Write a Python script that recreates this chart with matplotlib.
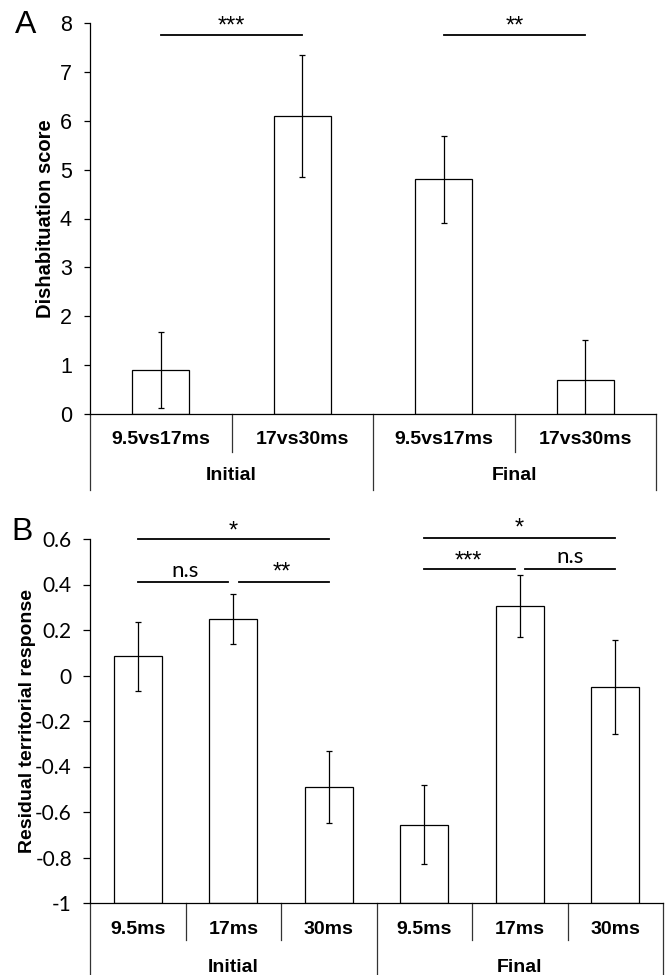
import numpy as np
import matplotlib.pyplot as plt

plt.rcParams['font.family'] = ['Liberation Sans', 'DejaVu Sans']

# Panel A data
a_cats = ['9.5vs17ms', '17vs30ms', '9.5vs17ms', '17vs30ms']
a_groups = ['Initial', 'Final']
a_means = [0.9, 6.1, 4.8, 0.7]
a_err = [0.77, 1.25, 0.89, 0.81]

# Panel B data
b_cats = ['9.5ms', '17ms', '30ms', '9.5ms', '17ms', '30ms']
b_groups = ['Initial', 'Final']
b_means = [0.084, 0.25, -0.49, -0.655, 0.305, -0.05]
b_err = [0.15, 0.11, 0.16, 0.172, 0.135, 0.208]
b_ticks = [0.6, 0.4, 0.2, 0, -0.2, -0.4, -0.6, -0.8, -1]
b_ticklabels = ['0.6', '0.4', '0.2', '0', '-0.2', '-0.4', '-0.6', '-0.8', '-1']

W, H = 669, 975
fig = plt.figure(figsize=(W / 100, H / 100), dpi=100)

axA = fig.add_axes([90 / W, 1 - 414 / H, 566 / W, 391 / H])
axB = fig.add_axes([90 / W, 1 - 903 / H, 573 / W, 364 / H])


def frac(ax, px):
    # pixels below the x axis -> axes fraction
    return -px / (ax.get_position().height * H)


def style(ax):
    for s in ['top', 'right']:
        ax.spines[s].set_visible(False)
    ax.spines['left'].set_linewidth(0.9)
    ax.spines['bottom'].set_linewidth(0.9)
    ax.tick_params(axis='x', length=0, labelbottom=False)


def category_axis(ax, cats, groups, per_group, cat_px, group_px, lab_px, glab_px):
    n = len(cats)
    tr = ax.get_xaxis_transform()
    for i, c in enumerate(cats):
        ax.text(i, frac(ax, lab_px), c, transform=tr, ha='center', va='center',
                fontsize=14, fontweight='bold')
    for i in range(1, n):
        if i % per_group:
            ax.plot([i - 0.5, i - 0.5], [0, frac(ax, cat_px)], transform=tr,
                    color='#333333', lw=0.9, clip_on=False)
    for g in range(len(groups) + 1):
        x = g * per_group - 0.5
        ax.plot([x, x], [0, frac(ax, group_px)], transform=tr,
                color='#333333', lw=0.9, clip_on=False)
    for g, name in enumerate(groups):
        ax.text(g * per_group + (per_group - 1) / 2, frac(ax, glab_px), name,
                transform=tr, ha='center', va='center', fontsize=14, fontweight='bold')


# ---------- Panel A ----------
xa = np.arange(len(a_means))
axA.bar(xa, a_means, width=0.4, color='white', edgecolor='black', linewidth=0.9, zorder=2)
axA.errorbar(xa, a_means, yerr=a_err, fmt='none', ecolor='black', elinewidth=0.9,
             capsize=2.5, capthick=0.9, zorder=3)
axA.set_xlim(-0.5, 3.5)
axA.set_ylim(0, 8)
axA.set_yticks(range(0, 9))
axA.tick_params(axis='y', length=4, width=0.9, pad=9, labelsize=15.5)
style(axA)
axA.set_ylabel('Dishabituation score', fontsize=14.5, fontweight='bold')
axA.yaxis.set_label_coords(-(90 - 55) / 566, 0.5)
category_axis(axA, a_cats, a_groups, 2, 38, 76, 26, 62)

for x0, x1, lab in [(0, 1, '***'), (2, 3, '**')]:
    axA.plot([x0, x1], [7.75, 7.75], color='black', lw=1.3, clip_on=False)
    axA.text((x0 + x1) / 2, 7.93, lab, ha='center', va='center', fontsize=17)

fig.text(26 / W, 1 - 25 / H, 'A', ha='center', va='center', fontsize=23)

# ---------- Panel B ----------
xb = np.arange(len(b_means))
axB.bar(xb, np.array(b_means) + 1, bottom=-1, width=0.5, color='white',
        edgecolor='black', linewidth=0.9, zorder=2)
axB.errorbar(xb, b_means, yerr=b_err, fmt='none', ecolor='black', elinewidth=0.9,
             capsize=2.5, capthick=0.9, zorder=3)
axB.set_xlim(-0.5, 5.5)
axB.set_ylim(-1, 0.6)
axB.set_yticks(b_ticks)
axB.set_yticklabels(b_ticklabels, fontfamily='Lato')
axB.tick_params(axis='y', length=5, width=0.9, pad=8, labelsize=15)
style(axB)
axB.set_ylabel('Residual territorial response', fontsize=14, fontweight='bold')
axB.yaxis.set_label_coords(-(90 - 36) / 573, 0.5)
category_axis(axB, b_cats, b_groups, 3, 37, 80, 27, 64)

sig_b = [
    (0, 2, 0.60, 1.0, 0.637, '*'),
    (0, 0.95, 0.41, 0.495, 0.46, 'n.s'),
    (1.06, 2, 0.41, 1.51, 0.458, '**'),
    (3, 5, 0.605, 3.99, 0.652, '*'),
    (3, 3.95, 0.466, 3.46, 0.505, '***'),
    (4.06, 5, 0.466, 4.53, 0.52, 'n.s'),
]
for x0, x1, y, tx, ty, lab in sig_b:
    axB.plot([x0, x1], [y, y], color='black', lw=1.3, clip_on=False)
    if lab == 'n.s':
        axB.text(tx, ty, lab, ha='center', va='center', fontsize=16, fontfamily='Lato')
    else:
        axB.text(tx, ty - 0.005, lab, ha='center', va='center', fontsize=17)

fig.text(22 / W, 1 - 532 / H, 'B', ha='center', va='center', fontsize=23)

fig.savefig('out.png', dpi=100, facecolor='white')
